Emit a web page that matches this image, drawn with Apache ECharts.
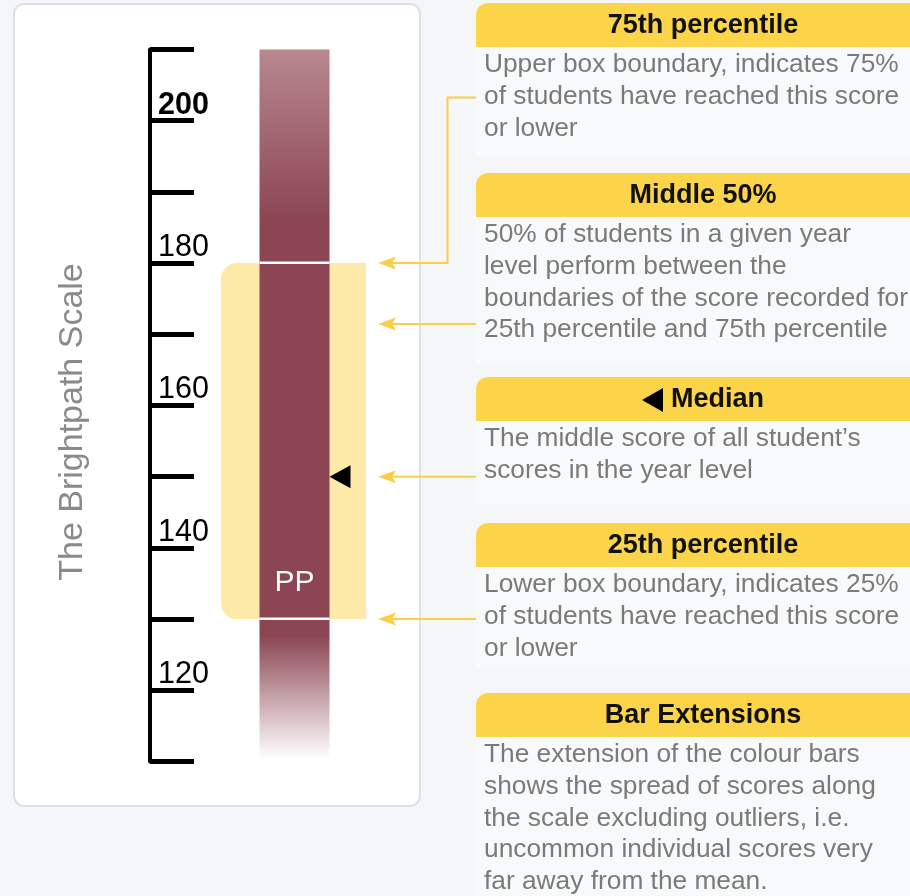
<!DOCTYPE html>
<html><head><meta charset="utf-8">
<script src="https://cdn.jsdelivr.net/npm/echarts@6/dist/echarts.min.js"></script>
<style>html,body{margin:0;padding:0;background:#f5f6f8;} #c{width:910px;height:896px;}</style>
</head><body><div id="c"></div>
<script>
// ---- data ----
const categories = ['PP'];
const barMin = [110];
const barMax = [210];
const p25 = [130];
const median = [150];
const p75 = [180];
const scaleMin = 110, scaleMax = 210, scaleStep = 10, labelStep = 20;
const boldTick = 200;
const axisTitle = 'The Brightpath Scale';
const headers = ['75th percentile', 'Middle 50%', 'Median', '25th percentile', 'Bar Extensions'];
const descriptions = [
  ['Upper box boundary, indicates 75%', 'of students have reached this score', 'or lower'],
  ['50% of students in a given year', 'level perform between the', 'boundaries of the score recorded for', '25th percentile and 75th percentile'],
  ['The middle score of all student\u2019s', 'scores in the year level'],
  ['Lower box boundary, indicates 25%', 'of students have reached this score', 'or lower'],
  ['The extension of the colour bars', 'shows the spread of scores along', 'the scale excluding outliers, i.e.', 'uncommon individual scores very', 'far away from the mean.']
];

// ---- styling / layout ----
const FONT = 'Liberation Sans';
const BAR = '#8b4553';
const YEL = '#fbd44a';
const ARROW = '#f9cf48';
const HIGHLIGHT = '#fde9a8';
const headerTops = [3, 173, 377, 523, 693];
const headerH = 44;
const blockBottoms = [157, 363, 505, 667, 900];
const LH = 31.7;
const DESC_FS = 26.3, HEAD_FS = 27, TICK_FS = 30.5, TITLE_FS = 34, CAT_FS = 30;

const chart = echarts.init(document.getElementById('c'), null, {renderer: 'canvas'});

const graphics = [];
// left panel
graphics.push({type: 'rect', z: 0, shape: {x: 14, y: 4, width: 406, height: 802, r: 10},
  style: {fill: '#ffffff', stroke: '#dce1e8', lineWidth: 2}});
// axis title
graphics.push({type: 'text', z: 1, x: 73, y: 422, rotation: Math.PI / 2,
  style: {text: axisTitle, fontSize: TITLE_FS, fontFamily: FONT, fill: '#8a8a8a', align: 'center', verticalAlign: 'middle'}});

headers.forEach(function (h, i) {
  const top = headerTops[i];
  graphics.push({type: 'rect', z: 0, shape: {x: 476, y: top + headerH, width: 460, height: blockBottoms[i] - top - headerH},
    style: {fill: '#f8f9fa'}});
  graphics.push({type: 'rect', z: 1, shape: {x: 476, y: top, width: 454, height: headerH, r: [12, 12, 0, 0]},
    style: {fill: YEL}});
  if (h === 'Median') {
    const my = top + 23;
    graphics.push({type: 'polygon', z: 2, shape: {points: [[642, my], [663, my - 12], [663, my + 12]]}, style: {fill: '#000'}});
    graphics.push({type: 'text', z: 2, x: 671, y: my,
      style: {text: h, fontSize: HEAD_FS, fontWeight: 'bold', fontFamily: FONT, fill: '#111', align: 'left', verticalAlign: 'middle'}});
  } else {
    graphics.push({type: 'text', z: 2, x: 703, y: top + 23,
      style: {text: h, fontSize: HEAD_FS, fontWeight: 'bold', fontFamily: FONT, fill: '#111', align: 'center', verticalAlign: 'middle'}});
  }
  descriptions[i].forEach(function (line, j) {
    graphics.push({type: 'text', z: 2, x: 484, y: top + headerH + 18 + j * LH,
      style: {text: line, fontSize: DESC_FS, fontFamily: FONT, fill: '#7a7a7a', align: 'left', verticalAlign: 'middle'}});
  });
});

function arrowHead(x, y) {
  return {type: 'polygon', shape: {points: [[x, y], [x + 18, y - 6.5], [x + 14, y], [x + 18, y + 6.5]]}, style: {fill: ARROW}};
}

const seriesData = categories.map(function (c, i) {
  return [i, barMin[i], barMax[i], p25[i], median[i], p75[i]];
});

const option = {
  animation: false,
  backgroundColor: 'transparent',
  grid: {left: 150, right: 471, top: 49.5, bottom: 134.5},
  xAxis: {type: 'category', data: categories, show: false},
  yAxis: {
    type: 'value', min: scaleMin, max: scaleMax, interval: scaleStep, z: 5,
    axisLine: {show: true, lineStyle: {color: '#000', width: 4}},
    axisTick: {show: true, inside: true, length: 44, lineStyle: {color: '#000', width: 5}},
    splitLine: {show: false},
    axisLabel: {
      inside: true, margin: 8, align: 'left', verticalAlign: 'bottom',
      formatter: function (v) {
        if (v % labelStep !== 0) return '';
        return v === boldTick ? '{b|' + v + '}' : '{n|' + v + '}';
      },
      rich: {
        b: {fontSize: TICK_FS, fontWeight: 'bold', fontFamily: FONT, color: '#000', lineHeight: 31},
        n: {fontSize: TICK_FS, fontFamily: FONT, color: '#000', lineHeight: 31}
      }
    }
  },
  graphic: {elements: graphics},
  series: [{
    type: 'custom', z: 6, clip: false,
    data: seriesData,
    encode: {x: 0, y: [1, 2, 3, 4, 5]},
    renderItem: function (params, api) {
      const idx = api.value(0);
      const cx = api.coord([idx, api.value(1)])[0];
      const yMin = api.coord([idx, api.value(1)])[1];
      const yMax = api.coord([idx, api.value(2)])[1];
      const y25 = api.coord([idx, api.value(3)])[1];
      const yMed = api.coord([idx, api.value(4)])[1];
      const y75 = api.coord([idx, api.value(5)])[1];
      const BW = 70;
      const x0 = cx - 35;
      const ch = [];
      ch.push({type: 'rect', shape: {x: cx - 73.5, y: y75, width: 145, height: y25 - y75, r: [16, 0, 0, 16]}, style: {fill: HIGHLIGHT}});
      ch.push({type: 'rect', shape: {x: x0, y: yMax, width: BW, height: y75 - yMax},
        style: {fill: {type: 'linear', x: 0, y: 0, x2: 0, y2: 1, colorStops: [
          {offset: 0, color: '#b8888f'}, {offset: 0.8, color: BAR}, {offset: 1, color: BAR}]}}});
      ch.push({type: 'rect', shape: {x: x0, y: y75, width: BW, height: y25 - y75}, style: {fill: BAR}});
      ch.push({type: 'rect', shape: {x: x0, y: y25, width: BW, height: yMin - 3 - y25},
        style: {fill: {type: 'linear', x: 0, y: 0, x2: 0, y2: 1, colorStops: [
          {offset: 0, color: BAR}, {offset: 0.12, color: BAR}, {offset: 1, color: 'rgba(139,69,83,0)'}]}}});
      ch.push({type: 'rect', shape: {x: x0, y: y75 - 1.5, width: BW, height: 2.5}, style: {fill: '#ffffff'}});
      ch.push({type: 'rect', shape: {x: x0, y: y25 - 1.5, width: BW, height: 2.5}, style: {fill: '#ffffff'}});
      const tx = x0 + BW;
      ch.push({type: 'polygon', shape: {points: [[tx, yMed], [tx + 21, yMed - 11.5], [tx + 21, yMed + 11.5]]}, style: {fill: '#000'}});
      ch.push({type: 'text', x: cx, y: y25 - 36,
        style: {text: categories[idx], fontSize: CAT_FS, fontFamily: FONT, fill: '#ffffff', align: 'center', verticalAlign: 'middle'}});
      // annotation arrows
      const ax = 378, ex = 476;
      ch.push({type: 'polyline', shape: {points: [[ex, 97.5], [447.5, 97.5], [447.5, y75], [ax + 12, y75]]}, style: {stroke: ARROW, lineWidth: 2, fill: null}});
      ch.push(arrowHead(ax, y75));
      const midY = y75 + 61;
      [midY, yMed, y25].forEach(function (yy) {
        ch.push({type: 'line', shape: {x1: ex, y1: yy, x2: ax + 12, y2: yy}, style: {stroke: ARROW, lineWidth: 2}});
        ch.push(arrowHead(ax, yy));
      });
      return {type: 'group', children: ch};
    }
  }]
};
chart.setOption(option);
</script>
</body></html>
